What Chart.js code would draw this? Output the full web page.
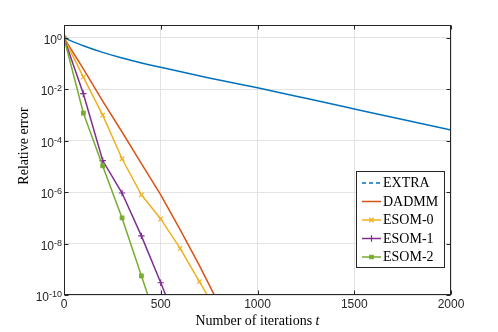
<!DOCTYPE html>
<html>
<head>
<meta charset="utf-8">
<script src="https://cdn.jsdelivr.net/npm/chart.js@4.4.0/dist/chart.umd.min.js"></script>
<style>
  body { margin: 0; background: #fff; }
  canvas { display: block; }
</style>
</head>
<body>
<canvas id="chart" width="498" height="332"></canvas>
<script>
// values
const seriesNames = ['EXTRA', 'DADMM', 'ESOM-0', 'ESOM-1', 'ESOM-2'];

const extraIters = [0, 100, 200, 300, 400, 500, 750, 1000, 1250, 1500, 1750, 2000];
const extraErr = [1, 0.5, 0.275, 0.166, 0.107, 0.072, 0.028, 0.0115, 4.5e-3, 1.74e-3, 6.7e-4, 2.6e-4];

const dadmmIters = [0, 100, 200, 300, 400, 500, 600, 700, 800];
const dadmmErr = [1, 6.3e-2, 3.5e-3, 2.2e-4, 1.3e-5, 7.9e-7, 3.5e-8, 1.4e-9, 4.5e-11];

const esom0Iters = [0, 100, 200, 300, 400, 500, 600, 700, 800];
const esom0Err = [1, 0.03, 1.0e-3, 2.0e-5, 7.9e-7, 9.1e-8, 6.5e-9, 3.3e-10, 1.7e-11];

const esom1Iters = [0, 100, 200, 300, 400, 500, 600];
const esom1Err = [1, 6.8e-3, 1.7e-5, 9.3e-7, 2.0e-8, 3.0e-10, 4e-12];

const esom2Iters = [0, 100, 200, 300, 400, 500];
const esom2Err = [1, 1.2e-3, 1.05e-5, 1.0e-7, 5.6e-10, 3e-12];

const xTicks = [0, 500, 1000, 1500, 2000];
const yTickExps = [0, -2, -4, -6, -8, -10];

const colors = ['#0072BD', '#D95319', '#EDB120', '#7E2F8E', '#77AC30'];
const markers = [false, false, 'crossRot', 'cross', 'rect'];

function pts(xs, ys) {
    return xs.map((x, i) => ({ x: x, y: ys[i] }));
}

function makeSet(i, xs, ys) {
    const m = markers[i];
    return {
        label: seriesNames[i],
        data: pts(xs, ys),
        borderColor: colors[i],
        backgroundColor: colors[i],
        borderWidth: 1.5,
        pointStyle: m || 'circle',
        pointRadius: m ? (m === 'rect' ? 2.5 : 3.2) : 0,
        pointBorderWidth: 1.2,
        pointBackgroundColor: colors[i],
        pointBorderColor: colors[i],
        order: 5 - i
    };
}

const datasets = [
    makeSet(0, extraIters, extraErr),
    makeSet(1, dadmmIters, dadmmErr),
    makeSet(2, esom0Iters, esom0Err),
    makeSet(3, esom1Iters, esom1Err),
    makeSet(4, esom2Iters, esom2Err)
];
datasets[0].cubicInterpolationMode = 'monotone';

const dark = '#262626';
const sansFont = '"Liberation Sans", Arial, sans-serif';
const serifFont = '"Liberation Serif", "Times New Roman", serif';

// frame, inward ticks, tick labels, titles and legend
const decorations = {
    id: 'decorations',
    afterDraw(chart) {
        const ctx = chart.ctx;
        const a = chart.chartArea;
        const sx = chart.scales.x, sy = chart.scales.y;
        const L = Math.round(a.left) + 0.5, R = Math.round(a.right) - 0.5;
        const T = Math.round(a.top) + 0.5, B = Math.round(a.bottom) - 0.5;
        ctx.save();

        ctx.strokeStyle = dark;
        ctx.lineWidth = 1;
        ctx.strokeRect(L, T, R - L, B - T);

        const tl = 4;
        ctx.beginPath();
        xTicks.forEach(v => {
            const px = Math.round(sx.getPixelForValue(v)) + 0.5;
            ctx.moveTo(px, B); ctx.lineTo(px, B - tl);
            ctx.moveTo(px, T); ctx.lineTo(px, T + tl);
        });
        yTickExps.forEach(e => {
            const py = Math.round(sy.getPixelForValue(Math.pow(10, e))) + 0.5;
            ctx.moveTo(L, py); ctx.lineTo(L + tl, py);
            ctx.moveTo(R, py); ctx.lineTo(R - tl, py);
        });
        ctx.stroke();

        // x tick labels
        ctx.fillStyle = dark;
        ctx.font = '12px ' + sansFont;
        ctx.textAlign = 'center';
        ctx.textBaseline = 'middle';
        xTicks.forEach(v => {
            ctx.fillText(String(v), sx.getPixelForValue(v), a.bottom + 10);
        });

        // y tick labels 10^e
        ctx.textBaseline = 'alphabetic';
        ctx.textAlign = 'left';
        yTickExps.forEach(e => {
            const py = sy.getPixelForValue(Math.pow(10, e));
            ctx.font = '9px ' + sansFont;
            const sup = String(e);
            const ws = ctx.measureText(sup).width;
            ctx.font = '12px ' + sansFont;
            const wb = ctx.measureText('10').width;
            const right = a.left - 2;
            ctx.fillText('10', right - ws - wb, py + 6);
            ctx.font = '9px ' + sansFont;
            ctx.fillText(sup, right - ws, py + 2);
        });

        // axis titles
        ctx.fillStyle = '#000';
        ctx.font = '14px ' + serifFont;
        ctx.textBaseline = 'middle';
        const t1 = 'Number of iterations ';
        const w1 = ctx.measureText(t1).width;
        ctx.font = 'italic 14px ' + serifFont;
        const w2 = ctx.measureText('t').width;
        const cx = (a.left + a.right) / 2;
        ctx.textAlign = 'left';
        ctx.font = '14px ' + serifFont;
        ctx.fillText(t1, cx - (w1 + w2) / 2, 321);
        ctx.font = 'italic 14px ' + serifFont;
        ctx.fillText('t', cx - (w1 + w2) / 2 + w1, 321);

        ctx.save();
        ctx.translate(24, 146);
        ctx.rotate(-Math.PI / 2);
        ctx.textAlign = 'center';
        ctx.font = '14px ' + serifFont;
        ctx.fillText('Relative error', 0, 0);
        ctx.restore();

        // legend
        const bx = a.right - 95, by = a.bottom - 124, bw = 88, bh = 96;
        ctx.fillStyle = '#fff';
        ctx.fillRect(bx, by, bw, bh);
        ctx.strokeStyle = dark;
        ctx.strokeRect(Math.round(bx) + 0.5, Math.round(by) + 0.5, bw, bh);
        chart.data.datasets.forEach((d, i) => {
            const y = by + 12 + i * 18.5;
            ctx.strokeStyle = d.borderColor;
            ctx.fillStyle = d.borderColor;
            ctx.lineWidth = 1.5;
            ctx.setLineDash(i === 0 ? [4, 3] : []);
            ctx.beginPath();
            ctx.moveTo(bx + 6, y);
            ctx.lineTo(bx + 25, y);
            ctx.stroke();
            ctx.setLineDash([]);
            if (markers[i]) {
                ctx.lineWidth = 1.2;
                Chart.helpers.drawPoint(ctx, {
                    pointStyle: markers[i],
                    radius: markers[i] === 'rect' ? 2.5 : 3.2,
                    rotation: 0,
                    borderWidth: 1.2
                }, bx + 15.5, y);
            }
            ctx.fillStyle = '#000';
            ctx.font = '14px ' + serifFont;
            ctx.textAlign = 'left';
            ctx.textBaseline = 'middle';
            ctx.fillText(d.label, bx + 27, y + 0.5);
        });

        ctx.restore();
    }
};

new Chart(document.getElementById('chart'), {
    type: 'line',
    data: { datasets: datasets },
    options: {
        responsive: false,
        animation: false,
        devicePixelRatio: 1,
        layout: { padding: { left: 64, right: 47, top: 25, bottom: 37 } },
        scales: {
            x: {
                type: 'linear',
                min: 0,
                max: 2000,
                afterBuildTicks: (s) => { s.ticks = xTicks.map(v => ({ value: v })); },
                ticks: { display: false },
                grid: { color: '#e3e3e3', drawTicks: false },
                border: { display: false }
            },
            y: {
                type: 'logarithmic',
                min: 1e-10,
                max: 3.2,
                afterBuildTicks: (s) => { s.ticks = yTickExps.map(e => ({ value: Math.pow(10, e) })); },
                ticks: { display: false },
                grid: { color: '#e3e3e3', drawTicks: false },
                border: { display: false }
            }
        },
        plugins: {
            legend: { display: false },
            tooltip: { enabled: false }
        }
    },
    plugins: [decorations]
});
</script>
</body>
</html>
